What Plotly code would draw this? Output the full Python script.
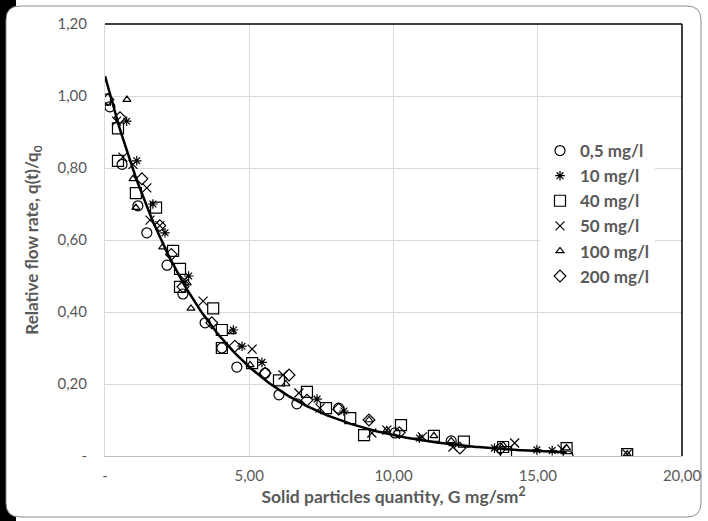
import plotly.graph_objects as go
import numpy as np

# ---- data ----
x_05 = [0.17, 0.59, 1.14, 1.45, 2.15, 2.70, 3.47, 4.05, 4.57, 5.55, 6.03, 6.65, 8.10, 10.05, 12.00, 16.05]
y_05 = [0.97, 0.81, 0.695, 0.62, 0.53, 0.45, 0.37, 0.30, 0.247, 0.23, 0.17, 0.145, 0.133, 0.064, 0.042, 0.0]

x_10 = [0.75, 1.10, 1.66, 2.08, 2.90, 4.45, 4.75, 5.44, 7.35, 8.28, 10.90, 13.50, 14.97, 15.50]
y_10 = [0.93, 0.82, 0.70, 0.62, 0.50, 0.35, 0.305, 0.26, 0.158, 0.125, 0.05, 0.022, 0.017, 0.015]

x_40 = [0.00, 0.45, 0.45, 1.07, 1.77, 2.36, 2.60, 2.60, 3.75, 4.05, 4.05, 5.10, 6.03, 7.00, 7.66, 8.50, 8.98, 10.26, 11.40, 12.44, 13.80, 13.90, 16.00, 18.10]
y_40 = [0.99, 0.91, 0.82, 0.73, 0.69, 0.57, 0.52, 0.47, 0.41, 0.35, 0.30, 0.258, 0.21, 0.178, 0.133, 0.105, 0.058, 0.086, 0.056, 0.04, 0.025, 0.011, 0.022, 0.005]

x_50 = [0.40, 0.62, 0.97, 1.45, 1.56, 1.90, 2.75, 3.40, 5.10, 6.17, 6.72, 7.45, 9.25, 9.77, 11.00, 12.06, 14.20, 15.84, 18.10]
y_50 = [0.93, 0.83, 0.81, 0.745, 0.655, 0.64, 0.49, 0.43, 0.297, 0.225, 0.175, 0.133, 0.064, 0.072, 0.053, 0.025, 0.036, 0.019, 0.005]

x_100 = [0.76, 0.97, 1.07, 2.00, 2.85, 2.98, 4.40, 5.03, 6.27, 9.15, 9.77, 11.40, 12.00, 13.80, 16.00, 18.10]
y_100 = [0.99, 0.77, 0.69, 0.58, 0.48, 0.41, 0.345, 0.253, 0.20, 0.10, 0.072, 0.056, 0.042, 0.03, 0.022, 0.005]

x_200 = [0.10, 0.52, 1.28, 1.90, 2.30, 2.70, 3.70, 4.50, 5.55, 6.38, 7.00, 8.10, 9.15, 10.20, 12.30, 13.70]
y_200 = [0.99, 0.94, 0.77, 0.64, 0.56, 0.47, 0.37, 0.305, 0.23, 0.225, 0.155, 0.13, 0.10, 0.065, 0.022, 0.02]

series_names = ["0,5 mg/l", "10 mg/l", "40 mg/l", "50 mg/l", "100 mg/l", "200 mg/l"]

# trend line: q = A * exp(-K * G), drawn from 0 to 16
TREND_A = 1.055
TREND_K = 0.29
TREND_X_END = 16.0

x_ticks = [0, 5, 10, 15, 20]
x_tick_text = ["-", "5,00", "10,00", "15,00", "20,00"]
y_ticks = [0, 0.2, 0.4, 0.6, 0.8, 1.0, 1.2]
y_tick_text = ["-", "0,20", "0,40", "0,60", "0,80", "1,00", "1,20"]

# ---- figure ----
FONT = "Lato"
GREY = "#595959"
W, H = 708, 521
L, R, T, B = 105, 26, 24, 65
PW, PH = W - L - R, H - T - B


def px(x):
    return (x - L) / PW


def py(y):
    return (H - B - y) / PH


fig = go.Figure()

styles = [
    ("circle-open", 10),
    ("asterisk-open", 8),
    ("square-open", 11),
    ("x-thin-open", 9),
    ("triangle-up-open", 7),
    ("diamond-open", 9),
]
data = [(x_05, y_05), (x_10, y_10), (x_40, y_40), (x_50, y_50), (x_100, y_100), (x_200, y_200)]

for i, ((xs, ys), name, (sym, size)) in enumerate(zip(data, series_names, styles)):
    fig.add_trace(go.Scatter(
        x=xs, y=ys, mode="markers", name=name, legendgroup=f"g{i}",
        marker=dict(symbol=sym, size=size, color="black",
                    line=dict(color="black", width=1.2)),
    ))

tx = np.linspace(0, TREND_X_END, 200)
fig.add_trace(go.Scatter(
    x=tx, y=TREND_A * np.exp(-TREND_K * tx), mode="lines",
    line=dict(color="black", width=2.5), showlegend=False, hoverinfo="skip",
))


def rounded_path(x0, y0, x1, y1, r):
    pts = [
        f"M {px(x0 + r)} {py(y0)}",
        f"L {px(x1 - r)} {py(y0)}",
        f"Q {px(x1)} {py(y0)} {px(x1)} {py(y0 + r)}",
        f"L {px(x1)} {py(y1 - r)}",
        f"Q {px(x1)} {py(y1)} {px(x1 - r)} {py(y1)}",
        f"L {px(x0 + r)} {py(y1)}",
        f"Q {px(x0)} {py(y1)} {px(x0)} {py(y1 - r)}",
        f"L {px(x0)} {py(y0 + r)}",
        f"Q {px(x0)} {py(y0)} {px(x0 + r)} {py(y0)}",
        "Z",
    ]
    return " ".join(pts)


shapes = [
    dict(type="rect", xref="paper", yref="paper", x0=px(0), x1=px(16), y0=py(H), y1=py(0),
         fillcolor="black", line=dict(width=0), layer="below"),
    dict(type="path", xref="paper", yref="paper", path=rounded_path(6, 6, 701, 517, 14),
         fillcolor="white", line=dict(color="#8c8c8c", width=1), layer="below"),
    dict(type="line", xref="paper", yref="paper", x0=0, x1=1, y0=1, y1=1,
         line=dict(color="black", width=1.5)),
    dict(type="line", xref="paper", yref="paper", x0=1, x1=1, y0=0, y1=1,
         line=dict(color="black", width=1.5)),
]

fig.update_layout(
    width=W, height=H,
    margin=dict(l=L, r=R, t=T, b=B, autoexpand=False),
    paper_bgcolor="white",
    plot_bgcolor="rgba(0,0,0,0)",
    font=dict(family=FONT, color=GREY, size=15),
    shapes=shapes,
    showlegend=True,
    legend=dict(
        x=px(540), y=py(133), xanchor="left", yanchor="top",
        bgcolor="white", borderwidth=0,
        font=dict(family=FONT, size=17, color=GREY, weight="bold"),
        tracegroupgap=0, itemwidth=30,
    ),
    xaxis=dict(
        range=[0, 20], tickvals=x_ticks, ticktext=x_tick_text,
        showgrid=True, gridcolor="#d9d9d9", gridwidth=1,
        zeroline=False, showline=True, linecolor="#bfbfbf", linewidth=1,
        ticks="", ticklabelstandoff=6, automargin=False,
        title=dict(text="Solid particles quantity, G mg/sm<sup>2</sup>",
                   font=dict(family=FONT, size=17.5, color=GREY, weight="bold"), standoff=6),
    ),
    yaxis=dict(
        range=[0, 1.2], tickvals=y_ticks, ticktext=y_tick_text,
        showgrid=True, gridcolor="#d9d9d9", gridwidth=1,
        zeroline=False, showline=True, linecolor="#d9d9d9", linewidth=1,
        ticks="", ticklabelstandoff=14, automargin=False,
        title=dict(text="Relative flow rate, q(t)/q<sub>0</sub>",
                   font=dict(family=FONT, size=17, color=GREY, weight="bold"), standoff=14),
    ),
)

fig.write_html(
    "out.html",
    config={"displayModeBar": False},
    post_script="document.body.style.margin='0';document.body.style.overflow='hidden';",
)
